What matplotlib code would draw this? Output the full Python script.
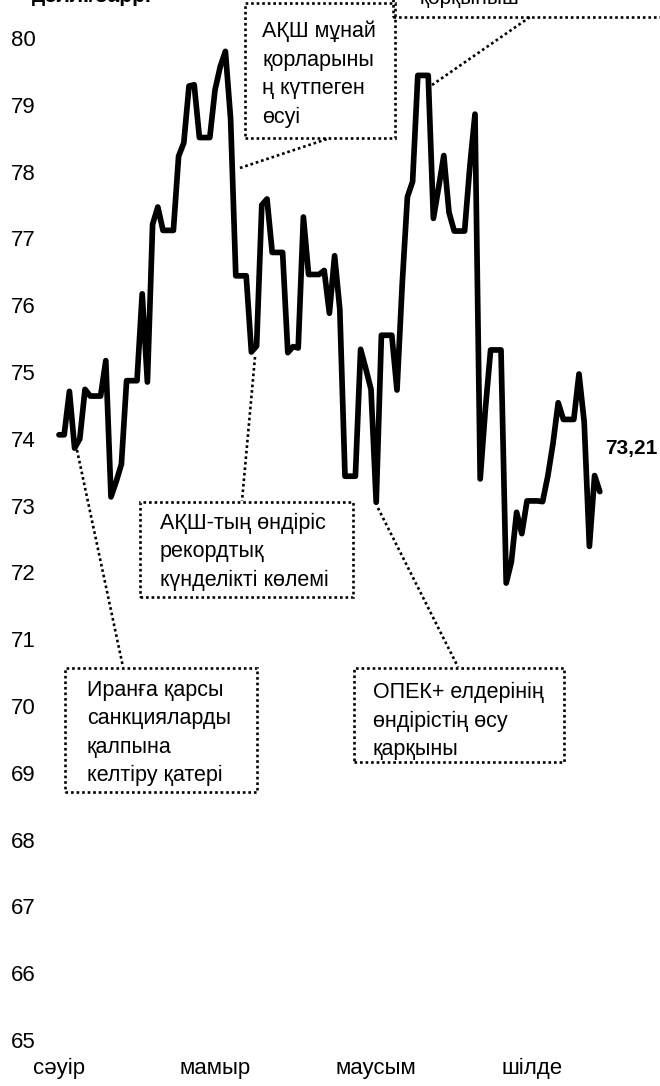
import pandas as pd
import matplotlib
matplotlib.use('Agg')
import matplotlib.pyplot as plt
import matplotlib.dates as mdates
from matplotlib.patches import Rectangle

plt.rcParams['font.family'] = ['Liberation Sans', 'DejaVu Sans']

# daily Brent close, weekends carry Friday's value
dates = pd.date_range('2018-04-21', '2018-08-03', freq='D')
brent = [
    74.06, 74.06, 74.71, 73.86, 74.00, 74.74, 74.64, 74.64, 74.64, 75.17,          # Apr 21-30
    73.13, 73.36, 73.62, 74.87, 74.87, 74.87, 76.17, 74.85, 77.21, 77.47,          # May 1-10
    77.12, 77.12, 77.12, 78.23, 78.43, 79.28, 79.30, 78.51, 78.51, 78.51,          # May 11-20
    79.22, 79.57, 79.80, 78.79, 76.44, 76.44, 76.44, 75.30, 75.39, 77.50, 77.59,   # May 21-31
    76.79, 76.79, 76.79, 75.29, 75.38, 75.36, 77.32, 76.46, 76.46, 76.46,          # Jun 1-10
    76.52, 75.88, 76.74, 75.94, 73.44, 73.44, 73.44, 75.34, 75.05, 74.74,          # Jun 11-20
    73.05, 75.55, 75.55, 75.55, 74.73, 76.31, 77.62, 77.85, 79.44, 79.44,          # Jun 21-30
    79.44, 77.30, 77.76, 78.24, 77.39, 77.11, 77.11, 77.11, 78.07, 78.86,          # Jul 1-10
    73.40, 74.45, 75.33, 75.33, 75.33, 71.84, 72.16, 72.90, 72.58, 73.07,          # Jul 11-20
    73.07, 73.07, 73.06, 73.44, 73.93, 74.54, 74.29, 74.29, 74.29, 74.97, 74.25,   # Jul 21-31
    72.39, 73.45, 73.21,                                                           # Aug 1-3
]
month_ticks = pd.to_datetime(['2018-04-21', '2018-05-21', '2018-06-21', '2018-07-21'])
month_labels = ['сәуір', 'мамыр', 'маусым', 'шілде']
y_ticks = list(range(65, 81))
last_label = '73,21'

W, H = 660, 1086
fig = plt.figure(figsize=(W / 100, H / 100), dpi=100)


def fx(px):
    return px / W


def fy(py):
    return 1 - py / H


ax = fig.add_axes([fx(45), fy(1040), fx(640) - fx(45), fy(38) - fy(1040)])
d0 = mdates.date2num(dates[0])
ax.set_xlim(d0 + (45 - 59) / 5.2, d0 + (640 - 59) / 5.2)
ax.set_ylim(65, 80)

ax.plot(dates, brent, color='black', lw=4.1, solid_joinstyle='round',
        solid_capstyle='round', clip_on=False, zorder=3)

ax.set_yticks(y_ticks)
ax.set_xticks(month_ticks)
ax.set_xticklabels(month_labels)
ax.tick_params(axis='y', length=0, pad=7, labelsize=16)
ax.tick_params(axis='x', length=0, pad=13, labelsize=16)
for s in ax.spines.values():
    s.set_visible(False)

ax.annotate(last_label, xy=(dates[-1], brent[-1]), xytext=(5, 43),
            textcoords='offset pixels', fontsize=15, fontweight='bold',
            ha='left', va='center')

dot = (0, (1, 1.1))


def note(box, text, tx, ty, start, end):
    x0, y0, x1, y1 = box
    fig.add_artist(Rectangle((fx(x0), fy(y1)), fx(x1) - fx(x0), fy(y0) - fy(y1),
                             transform=fig.transFigure, fill=False, ec='black',
                             lw=1.9, ls=dot, clip_on=False))
    fig.text(fx(tx), fy(ty), text, ha='left', va='top', fontsize=15.5, linespacing=1.46)
    fig.add_artist(plt.Line2D([fx(start[0]), fx(end[0])], [fy(start[1]), fy(end[1])],
                              transform=fig.transFigure, color='black', lw=1.9, ls=dot))


note((65, 668, 257, 792), 'Иранға қарсы\nсанкцияларды\nқалпына\nкелтіру қатері',
     87, 680, (77, 450), (123, 667))
note((140, 502, 353, 597), 'АҚШ-тың өндіріс\nрекордтық\nкүнделікті көлемі',
     160, 513, (255, 357), (242, 501))
note((354, 668, 564, 762), 'ОПЕК+ елдерінің\nөндірістің өсу\nқарқыны',
     373, 682, (378, 508), (458, 667))
note((245, 3, 395, 138), 'АҚШ мұнай\nқорларыны\nң күтпеген\nөсуі',
     262, 21, (240, 168), (330, 138))

# box cut by the top edge
fig.add_artist(Rectangle((fx(393), fy(17)), fx(700) - fx(393), fy(-40) - fy(17),
                         transform=fig.transFigure, fill=False, ec='black',
                         lw=1.9, ls=dot, clip_on=False))
fig.add_artist(plt.Line2D([fx(432), fx(530)], [fy(85), fy(17)],
                          transform=fig.transFigure, color='black', lw=1.9, ls=dot))
fig.text(fx(420), fy(4.5), 'қорқыныш', ha='left', va='baseline', fontsize=15)

fig.text(fx(32), fy(2.5), 'долл./барр.', ha='left', va='baseline', fontsize=15,
         fontweight='bold')

fig.savefig('out.png', dpi=100)
